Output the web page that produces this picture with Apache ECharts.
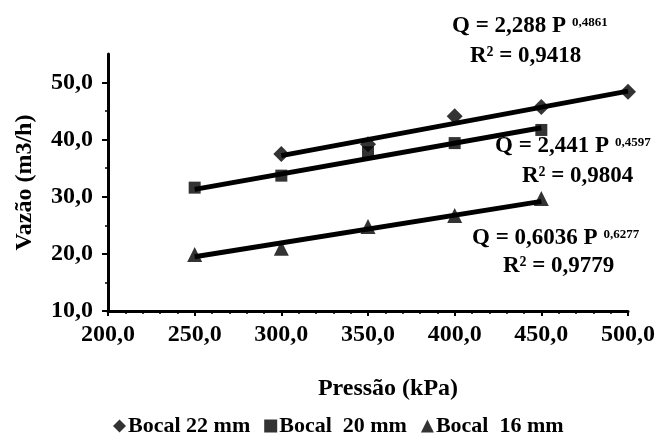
<!DOCTYPE html>
<html>
<head>
<meta charset="utf-8">
<script src="https://cdn.jsdelivr.net/npm/echarts@6/dist/echarts.min.js"></script>
<style>
  body { margin: 0; background: #fff; }
  #chart { width: 660px; height: 434px; }
</style>
</head>
<body>
<div id="chart"></div>
<script>
// pressões (kPa)
var pressao22 = [300, 350, 400, 450, 500];
var pressao20 = [250, 300, 350, 400, 450];
var pressao16 = [250, 300, 350, 400, 450];
// vazões (m3/h)
var vazao22 = [37.5, 39.2, 44.1, 45.7, 48.4];
var vazao20 = [31.6, 33.7, 37.8, 39.4, 41.7];
var vazao16 = [19.9, 21.0, 24.8, 26.7, 29.7];
// linhas de tendência (potência), extremos
var tend22 = [[300, 37.2], [500, 48.5]];
var tend20 = [[250, 31.3], [450, 42.1]];
var tend16 = [[250, 19.5], [450, 29.2]];
var nomes = ['Bocal 22 mm', 'Bocal  20 mm', 'Bocal  16 mm'];
var equacoes = [
  ['2,288', '0,4861', '0,9418'],
  ['2,441', '0,4597', '0,9804'],
  ['0,6036', '0,6277', '0,9779']
];

var fonte = '"Liberation Serif", "Times New Roman", serif';

function pares(xs, ys) {
  return xs.map(function (x, i) { return [x, ys[i]]; });
}
function virgula(v) {
  return v.toFixed(1).replace('.', ',');
}

var rico = {
  n: { fontFamily: fonte, fontWeight: 'bold', fontSize: 23, color: '#000' },
  sup: { fontFamily: fonte, fontWeight: 'bold', fontSize: 13, color: '#000', verticalAlign: 'top', padding: [1, 0, 0, 6] }
};

function eqQ(e, x, y) {
  return {
    type: 'text', left: x, top: y,
    style: {
      text: '{n|Q = ' + e[0] + ' P}{sup|' + e[1] + '}',
      rich: rico
    }
  };
}
function eqR(e, x, y) {
  return {
    type: 'text', left: x, top: y,
    style: {
      text: '{n|R² = ' + e[2] + '}',
      rich: rico
    }
  };
}

var linha = { color: '#000', width: 5 };

var option = {
  backgroundColor: '#fff',
  animation: false,
  grid: { left: 108, right: 32, top: 54, bottom: 123 },
  xAxis: {
    type: 'value', min: 200, max: 500, interval: 50,
    name: 'Pressão (kPa)', nameLocation: 'middle', nameGap: 66,
    nameTextStyle: { fontFamily: fonte, fontWeight: 'bold', fontSize: 24, color: '#000', padding: [0, 0, 0, 40] },
    axisLine: { lineStyle: { color: '#000', width: 3 } },
    axisTick: { length: 5, lineStyle: { color: '#000', width: 2 } },
    minorTick: { show: true, splitNumber: 5, length: 3, lineStyle: { color: '#000', width: 1.5 } },
    splitLine: { show: false },
    axisLabel: {
      margin: 12, color: '#000', fontFamily: fonte, fontWeight: 'bold', fontSize: 24,
      formatter: virgula
    }
  },
  yAxis: {
    type: 'value', min: 10, max: 55, interval: 10,
    name: 'Vazão (m3/h)', nameLocation: 'middle', nameGap: 71,
    nameTextStyle: { fontFamily: fonte, fontWeight: 'bold', fontSize: 24, color: '#000' },
    axisLine: { show: true, lineStyle: { color: '#000', width: 3 } },
    axisTick: { show: true, length: 6, customValues: [10, 20, 30, 40, 50], lineStyle: { color: '#000', width: 2 } },
    minorTick: { show: true, splitNumber: 2, length: 3, lineStyle: { color: '#000', width: 1.5 } },
    splitLine: { show: false },
    axisLabel: {
      margin: 15, color: '#000', fontFamily: fonte, fontWeight: 'bold', fontSize: 24,
      customValues: [10, 20, 30, 40, 50],
      formatter: virgula
    }
  },
  legend: {
    top: 410, left: 108,
    itemWidth: 13, itemHeight: 13, itemGap: 14,
    textStyle: { fontFamily: fonte, fontWeight: 'bold', fontSize: 22, color: '#000', padding: [0, 0, 0, -3] },
    data: [
      { name: nomes[0], icon: 'diamond' },
      { name: nomes[1], icon: 'rect' },
      { name: nomes[2], icon: 'triangle' }
    ]
  },
  series: [
    { type: 'line', data: tend22, symbol: 'none', lineStyle: linha, z: 2 },
    { type: 'line', data: tend20, symbol: 'none', lineStyle: linha, z: 2 },
    { type: 'line', data: tend16, symbol: 'none', lineStyle: linha, z: 2 },
    { name: nomes[0], type: 'scatter', data: pares(pressao22, vazao22), symbol: 'diamond', symbolSize: 16, itemStyle: { color: '#000' }, z: 3 },
    { name: nomes[1], type: 'scatter', data: pares(pressao20, vazao20), symbol: 'rect', symbolSize: 12, itemStyle: { color: '#000' }, z: 3 },
    { name: nomes[2], type: 'scatter', data: pares(pressao16, vazao16), symbol: 'triangle', symbolSize: 15, itemStyle: { color: '#000' }, z: 3 }
  ],
  graphic: [
    eqQ(equacoes[0], 452, 15), eqR(equacoes[0], 470, 45),
    eqQ(equacoes[1], 495, 135), eqR(equacoes[1], 522, 165),
    eqQ(equacoes[2], 472, 227), eqR(equacoes[2], 503, 255)
  ]
};

var chart = echarts.init(document.getElementById('chart'));
chart.setOption(option);
</script>
</body>
</html>
